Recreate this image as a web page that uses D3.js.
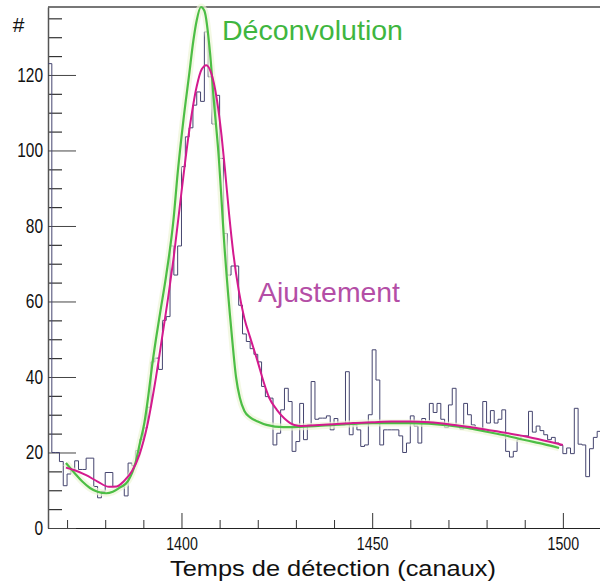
<!DOCTYPE html>
<html><head><meta charset="utf-8">
<script src="https://cdn.jsdelivr.net/npm/d3@7"></script>
<style>html,body{margin:0;padding:0;background:#fff;} svg{display:block;}</style>
</head><body><svg id="chart" width="600" height="582"></svg>
<script>
// ---- data ----
const firstChannel = 1365;
const counts = [
  123, 20, 20, 17.6, 11.2, 14.3, 15.5, 17.8, 15.5, 15.5,
  18.5, 18.5, 11, 8, 9.7, 14.7, 14.7, 11, 11, 11,
  8.5, 17.2, 16.5, 20.5, 23.5, 26.5, 32, 44, 45, 42,
  55, 56, 74.7, 67, 74.7, 95.7, 103.6, 106, 112, 115.5,
  113, 131.4, 119.5, 107, 114.6, 97.9, 78, 67, 69.4, 69.4,
  59, 51.4, 49.4, 47.5, 46, 44, 37.5, 34.8, 34.4, 22,
  25.1, 31.3, 37, 33.5, 20.3, 22.9, 33, 23.4, 27.3, 38.8,
  28.8, 29.1, 29.1, 29.7, 26, 29, 27.3, 27.3, 41.4, 24.7,
  27.3, 26, 21.6, 22, 30, 47.2, 39.2, 22, 26, 26,
  26, 26, 24.4, 20, 22.5, 29.7, 27, 22.5, 29, 28.2,
  33, 30.6, 33, 28.8, 26.6, 32.6, 37, 26.9, 26.2, 33,
  30, 27.3, 26.4, 26.4, 33.5, 27.8, 31.1, 27.8, 28.8, 31.3,
  20.3, 18.8, 20.3, 23.4, 24.4, 24.4, 30.9, 25.4, 27, 25.8,
  24.7, 23.4, 24, 22.5, 21.9, 19.7, 21.2, 19.7, 31.7, 22.2,
  22, 13.6, 21, 24, 25.6
];
const channels = d3.range(firstChannel, firstChannel + counts.length);

// "Ajustement" (fit) curve
const fitChannels = [1369.7,1372,1375,1378,1381,1383,1385,1387,1389,1391,1393,1395,1396.5,1398,1400,1402,1404,1405.3,1406.5,1407.8,1409.2,1410.5,1411.4,1412.5,1413.6,1415,1416.5,1418,1420,1421.5,1423,1425,1427,1428.5,1431,1435,1440,1445,1450,1455,1460,1465,1470,1475,1480,1485,1490,1495,1500];
const fitValues   = [16,15.3,14,12.3,10.9,11,12.5,15,19.5,27,38,51,61,72,89,105,117,121.5,122.6,120.5,114,104,95,83,72.7,63,55.5,50.5,44,38.8,34.5,31.3,29,27.8,27,27.2,27.5,27.8,28,28.2,28.2,28,27.5,26.8,26,25.2,24.3,23.2,22];

// "Déconvolution" curve
const deconvChannels = [1369.7,1372,1374,1376,1378,1380.3,1382,1384,1386,1388,1389.1,1390.3,1391.3,1392.3,1393.3,1394.4,1396,1397.9,1399,1400.5,1402,1403.1,1404,1405.1,1406,1407.5,1408.5,1409.7,1411.4,1413.2,1414.3,1415.3,1416.5,1418,1420,1422.3,1426.7,1431,1440,1450,1460,1470,1475,1480,1485,1490,1495,1499];
const deconvValues   = [17.2,14.5,12.3,10.6,9.6,9.2,9.6,10.8,12.5,17.5,22.5,28,35,43,50,57,67,81.6,94,108,120,129,134.5,138,137,125.7,113,99.2,72.7,51,40,34.5,31,29.3,28.2,27.3,26.7,26.8,27.3,27.8,27.8,27.2,26.5,25.5,24.5,23.3,22.2,21.2];

const xTickValues = [1400, 1450, 1500];
const xMinorTicks = [1370, 1380, 1390, 1410, 1420, 1430, 1440, 1460, 1470, 1480, 1490];
const yTickValues = [0, 20, 40, 60, 80, 100, 120];
const yMinorTicks = [5,10,15,25,30,35,45,50,55,65,70,75,85,90,95,105,110,115,125,130,135];

// ---- drawing ----
const svg = d3.select("#chart");
const x = d3.scaleLinear().domain([1365, 1510]).range([48, 601]);
const y = d3.scaleLinear().domain([0, 138]).range([528, 7]);

const tickFont = "'Liberation Sans Narrow','Liberation Sans',Arial,sans-serif";
const textFont = "'Liberation Sans',Arial,sans-serif";

// top frame line
svg.append("line").attr("x1", 48).attr("x2", 600).attr("y1", 7).attr("y2", 7)
  .attr("stroke", "#777").attr("stroke-width", 2);

// minor ticks
const gxMinor = svg.append("g").attr("transform", "translate(0,528)")
  .call(d3.axisBottom(x).tickValues(xMinorTicks).tickSize(-8).tickSizeOuter(0).tickFormat(""));
gxMinor.select(".domain").remove();
gxMinor.selectAll("line").attr("stroke", "#333");

const gyMinor = svg.append("g").attr("transform", "translate(48,0)")
  .call(d3.axisLeft(y).tickValues(yMinorTicks).tickSize(-14).tickSizeOuter(0).tickFormat(""));
gyMinor.select(".domain").remove();
gyMinor.selectAll("line").attr("stroke", "#333").attr("stroke-width", 1.2);

// major axes
const gx = svg.append("g").attr("transform", "translate(0,528)")
  .call(d3.axisBottom(x).tickValues(xTickValues).tickSize(-15).tickPadding(9).tickSizeOuter(0).tickFormat(d3.format("d")));
gx.select(".domain").attr("stroke", "#222").attr("stroke-width", 1.2);
gx.selectAll("line").attr("stroke", "#333");
gx.selectAll("text").attr("font-family", tickFont).attr("font-size", 19).attr("fill", "#111")
  .attr("textLength", d => String(d).length * 7.9).attr("lengthAdjust", "spacingAndGlyphs");

const gy = svg.append("g").attr("transform", "translate(48,0)")
  .call(d3.axisLeft(y).tickValues(yTickValues).tickSize(-28).tickPadding(5).tickSizeOuter(0));
gy.select(".domain").attr("stroke", "#555").attr("stroke-width", 1.5);
gy.selectAll("line").attr("stroke", "#444");
gy.selectAll("text").attr("font-family", tickFont).attr("font-size", 20).attr("fill", "#111")
  .attr("textLength", d => String(d).length * 8.6).attr("lengthAdjust", "spacingAndGlyphs");

// histogram (step line)
const histPts = channels.map((c, i) => [c, counts[i]]);
histPts.push([channels[channels.length - 1] + 1, counts[counts.length - 1]]);
svg.append("path").datum(histPts)
  .attr("fill", "none").attr("stroke", "#45456f").attr("stroke-width", 1)
  .attr("d", d3.line().x(d => x(d[0])).y(d => y(d[1])).curve(d3.curveStepAfter));

// curves
const curveLine = d3.line().x(d => x(d[0])).y(d => y(d[1])).curve(d3.curveMonotoneX);
const deconvPts = deconvChannels.map((c, i) => [c, deconvValues[i]]);
const fitPts = fitChannels.map((c, i) => [c, fitValues[i]]);

svg.append("path").datum(deconvPts).attr("fill", "none").attr("stroke", "#eef5d8")
  .attr("stroke-width", 7).attr("opacity", 0.7).attr("d", curveLine);
svg.append("path").datum(deconvPts).attr("fill", "none").attr("stroke", "#4cbe45")
  .attr("stroke-width", 2.2).attr("d", curveLine);
svg.append("path").datum(fitPts).attr("fill", "none").attr("stroke", "#d41a8e")
  .attr("stroke-width", 2).attr("d", curveLine);

// texts
svg.append("text").attr("x", 18.5).attr("y", 32).attr("text-anchor", "middle")
  .attr("font-family", textFont).attr("font-size", 21).attr("fill", "#111").text("#");

svg.append("text").attr("x", 222).attr("y", 40)
  .attr("font-family", textFont).attr("font-size", 28).attr("fill", "#3fb63f")
  .attr("textLength", 181).attr("lengthAdjust", "spacingAndGlyphs").text("Déconvolution");

svg.append("text").attr("x", 258).attr("y", 302)
  .attr("font-family", textFont).attr("font-size", 28).attr("fill", "#b44ea6")
  .attr("textLength", 142).attr("lengthAdjust", "spacingAndGlyphs").text("Ajustement");

svg.append("text").attr("x", 170).attr("y", 576)
  .attr("font-family", textFont).attr("font-size", 22.5).attr("fill", "#111")
  .attr("textLength", 326).attr("lengthAdjust", "spacingAndGlyphs").text("Temps de détection (canaux)");
</script>
</body></html>
